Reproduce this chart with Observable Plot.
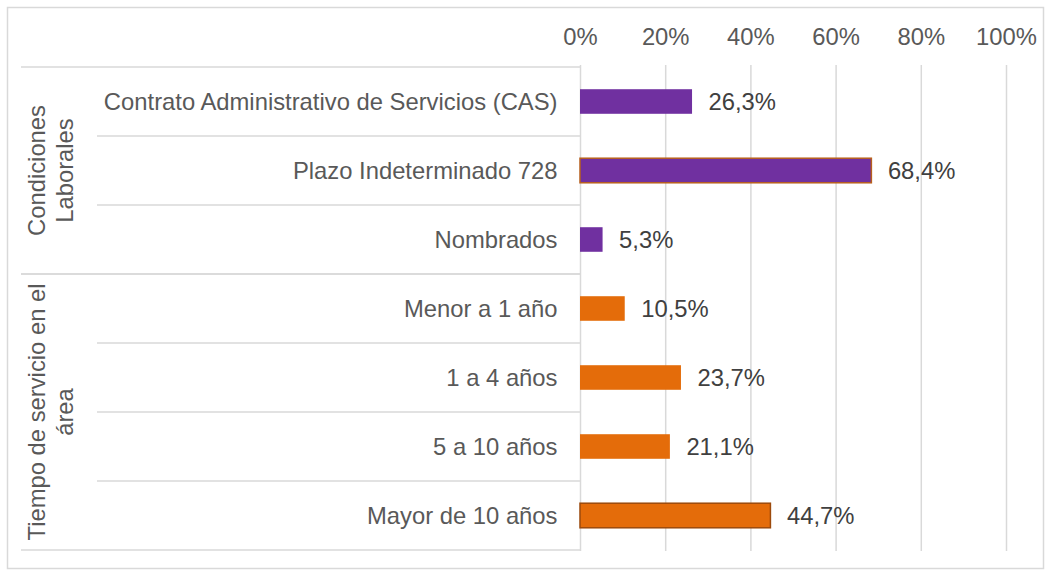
<!DOCTYPE html>
<html>
<head>
<meta charset="utf-8">
<script src="https://cdn.jsdelivr.net/npm/d3@7"></script>
<script src="https://cdn.jsdelivr.net/npm/@observablehq/plot@0.6"></script>
<style>
  body { margin: 0; background: #fff; }
  #chart svg { display: block; }
</style>
</head>
<body>
<div id="chart"></div>
<script>
// ---- Data ----
const categories = [
  "Contrato Administrativo de Servicios (CAS)",
  "Plazo Indeterminado 728",
  "Nombrados",
  "Menor a 1 año",
  "1 a 4 años",
  "5 a 10 años",
  "Mayor de 10 años"
];
const values = [26.3, 68.4, 5.3, 10.5, 23.7, 21.1, 44.7];
const groups = [
  "Condiciones Laborales", "Condiciones Laborales", "Condiciones Laborales",
  "Tiempo de servicio en el área", "Tiempo de servicio en el área",
  "Tiempo de servicio en el área", "Tiempo de servicio en el área"
];
const groupNames = ["Condiciones Laborales", "Tiempo de servicio en el área"];
const groupLabelLines = [["Condiciones", "Laborales"], ["Tiempo de servicio en el", "área"]];
const xTicks = [0, 20, 40, 60, 80, 100];

// ---- Styles ----
const groupFill = ["#7030a0", "#e46c0a"];
const groupHighlightStroke = ["#b8601e", "#9c4a0c"];
const gridColor = "#d9d9d9";
const textColor = "#595959";
const valueColor = "#404040";

const data = categories.map((c, i) => ({category: c, value: values[i], group: groups[i]}));
const maxByGroup = d3.rollup(data, v => d3.max(v, d => d.value), d => d.group);
const fmt = v => v.toFixed(1).replace(".", ",") + "%";

const W = 1051, H = 576;
const mTop = 65, mBottom = 25, mLeft = 580, mRight = 45;
const step = (H - mTop - mBottom) / categories.length;
const barH = 25;
const inset = (step - barH) / 2;

const plot = Plot.plot({
  width: W, height: H,
  marginTop: mTop, marginBottom: mBottom, marginLeft: mLeft, marginRight: mRight,
  style: {fontFamily: "Arial, 'Liberation Sans', sans-serif", fontSize: "23.8px", color: textColor, background: "#fff", overflow: "visible"},
  x: {domain: [0, 100]},
  y: {domain: categories, padding: 0},
  color: {domain: groupNames, range: groupFill},
  marks: [
    Plot.gridX(xTicks, {stroke: gridColor, strokeOpacity: 1, strokeWidth: 1.5}),
    Plot.axisX(xTicks, {anchor: "top", tickSize: 0, tickPadding: 21, label: null, tickFormat: d => d + "%", fill: textColor}),
    Plot.axisY({anchor: "left", tickSize: 0, tickPadding: 23, label: null, fill: textColor}),
    Plot.barX(data, {y: "category", x: "value", fill: "group", insetTop: inset, insetBottom: inset}),
    ...groupNames.map((g, gi) => Plot.barX(data.filter(d => d.group === g && d.value === maxByGroup.get(g)), {
      y: "category", x: "value", fill: "none", stroke: groupHighlightStroke[gi], strokeWidth: 1.5,
      insetTop: inset, insetBottom: inset
    })),
    Plot.text(data, {y: "category", x: "value", text: d => fmt(d.value), textAnchor: "start", dx: 16, fill: valueColor})
  ]
});

// ---- Decorations derived from Plot's scales ----
const svg = d3.select(plot);
const y = plot.scale("y");
const x = plot.scale("x");
const x0 = x.apply(0);
const deco = svg.append("g");

// outer border
deco.append("rect")
  .attr("x", 7.5).attr("y", 7.5).attr("width", W - 15).attr("height", H - 15)
  .attr("fill", "none").attr("stroke", gridColor).attr("stroke-width", 1.5);

groupNames.forEach((g, gi) => {
  const cats = categories.filter((c, i) => groups[i] === g);
  const top = y.apply(cats[0]);
  const bottom = y.apply(cats[cats.length - 1]) + y.step;
  [top, bottom].forEach(yy => {
    deco.append("line").attr("x1", 21).attr("x2", x0).attr("y1", yy).attr("y2", yy)
      .attr("stroke", gridColor).attr("stroke-width", 1.5);
  });
  cats.slice(1).forEach(c => {
    const yy = y.apply(c);
    deco.append("line").attr("x1", 97).attr("x2", x0).attr("y1", yy).attr("y2", yy)
      .attr("stroke", gridColor).attr("stroke-width", 1.5);
  });
  const cy = (top + bottom) / 2;
  groupLabelLines[gi].forEach((line, li) => {
    deco.append("text")
      .attr("transform", `translate(${45 + li * 28},${cy}) rotate(-90)`)
      .attr("text-anchor", "middle")
      .attr("fill", textColor)
      .text(line);
  });
});

document.getElementById("chart").appendChild(plot);
</script>
</body>
</html>
